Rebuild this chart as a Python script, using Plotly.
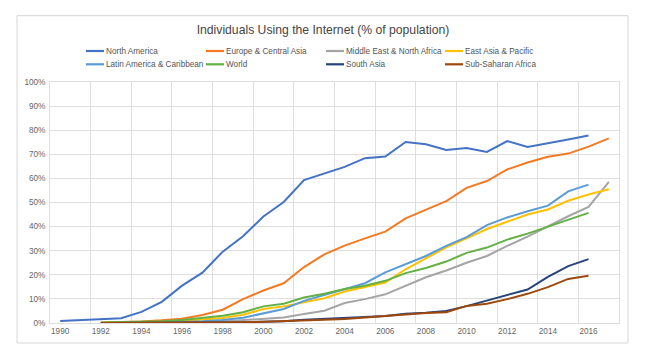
import plotly.graph_objects as go

years = list(range(1990, 2018))

north_america = [0.8, 1.2, 1.6, 2.0, 4.6, 8.8, 15.5, 20.9, 29.6, 36.0, 44.2, 50.2, 59.3, 62.0, 64.8, 68.4, 69.1, 75.1, 74.2, 71.8, 72.6, 71.0, 75.5, 73.0, 74.4, 76.1, 77.8, None]
europe_central_asia = [None, None, 0.2, 0.3, 0.6, 1.1, 1.8, 3.3, 5.5, 9.9, 13.5, 16.5, 23.2, 28.5, 32.1, 35.1, 37.9, 43.4, 46.9, 50.6, 56.1, 58.9, 63.7, 66.6, 69.0, 70.3, 73.2, 76.6]
middle_east_north_africa = [None, None, 0.0, 0.0, 0.05, 0.1, 0.2, 0.3, 0.6, 1.1, 1.8, 2.3, 3.7, 5.1, 8.3, 9.9, 11.9, 15.5, 19.0, 21.8, 25.0, 27.8, 32.0, 35.8, 40.1, 44.3, 48.2, 58.6]
east_asia_pacific = [None, None, 0.02, 0.05, 0.1, 0.3, 0.8, 1.4, 2.1, 3.4, 5.8, 6.9, 8.7, 10.3, 13.1, 14.9, 16.8, 22.3, 26.9, 31.4, 35.1, 39.0, 42.0, 45.0, 47.1, 50.7, 53.3, 55.5]
latin_america_caribbean = [None, None, 0.05, 0.1, 0.2, 0.3, 0.4, 0.7, 1.2, 2.2, 4.1, 5.8, 9.2, 11.7, 14.1, 16.5, 21.0, 24.5, 27.8, 32.0, 35.6, 40.6, 43.8, 46.4, 48.7, 54.6, 57.4, None]
world = [None, None, 0.2, 0.3, 0.4, 0.7, 1.2, 2.1, 3.0, 4.5, 6.9, 8.0, 10.6, 12.1, 14.1, 15.5, 17.5, 20.7, 22.8, 25.5, 29.1, 31.3, 34.6, 37.1, 40.0, 42.8, 45.7, None]
south_asia = [None, None, 0.0, 0.0, 0.0, 0.02, 0.05, 0.08, 0.15, 0.3, 0.5, 0.7, 1.3, 1.6, 2.0, 2.5, 2.9, 3.8, 4.3, 5.0, 7.0, 9.2, 11.5, 13.9, 19.1, 23.6, 26.5, None]
sub_saharan_africa = [None, None, 0.0, 0.0, 0.02, 0.05, 0.08, 0.12, 0.2, 0.3, 0.5, 0.7, 1.0, 1.3, 1.7, 2.2, 2.9, 3.5, 4.1, 4.5, 7.1, 8.0, 9.9, 12.1, 14.9, 18.3, 19.6, None]

series_names = ["North America", "Europe & Central Asia", "Middle East & North Africa",
                "East Asia & Pacific", "Latin America & Caribbean", "World",
                "South Asia", "Sub-Saharan Africa"]
series_values = [north_america, europe_central_asia, middle_east_north_africa,
                 east_asia_pacific, latin_america_caribbean, world,
                 south_asia, sub_saharan_africa]
series_colors = ["#4472c4", "#f47a22", "#a5a5a5", "#ffc000",
                 "#5b9bd5", "#63b145", "#264478", "#9e480e"]

year_labels = [y for y in years if y % 2 == 0 and y <= 2016]
grid_years = [y - 0.5 for y in years[::2]] + [years[-1] + 0.5]
y_ticks = list(range(0, 101, 10))

FONT = "Arial, Liberation Sans, sans-serif"
GRID = "#dedede"

W, H = 646, 351
L, R, T, B = 50, 27, 82, 28
plot_w = W - L - R
plot_h = H - T - B

def px(p):
    return (p - L) / plot_w

def py(p):
    return (H - B - p) / plot_h

fig = go.Figure()
for name, vals, color in zip(series_names, series_values, series_colors):
    fig.add_trace(go.Scatter(
        x=years, y=vals, name=name, mode="lines",
        line=dict(color=color, width=2), showlegend=False,
    ))

# Legend laid out as in the reference: 4 columns x 2 rows, short swatches
col_x = [86, 206, 326, 445]
row_y = [51, 64.3]
shapes = [dict(type="rect", xref="paper", yref="paper",
               x0=px(17), x1=px(628), y0=py(343), y1=py(15.7),
               line=dict(color="#d6d6d6", width=1), fillcolor="rgba(0,0,0,0)",
               layer="below")]
annotations = []
for i, (name, color) in enumerate(zip(series_names, series_colors)):
    cx = col_x[i % 4]
    ry = row_y[i // 4]
    shapes.append(dict(type="line", xref="paper", yref="paper",
                       x0=px(cx), x1=px(cx + 18), y0=py(ry), y1=py(ry),
                       line=dict(color=color, width=2.2)))
    annotations.append(dict(text=name, xref="paper", yref="paper",
                            x=px(cx + 18.5), y=py(ry), xanchor="left", yanchor="middle",
                            showarrow=False, borderpad=0,
                            font=dict(family=FONT, size=8.2, color="#555555")))

fig.update_layout(
    width=W, height=H,
    margin=dict(l=L, r=R, t=T, b=B),
    paper_bgcolor="white", plot_bgcolor="white",
    title=dict(text="Individuals Using the Internet (% of population)",
               x=0.5, xref="container", y=1 - 30 / H, yref="container",
               xanchor="center", yanchor="middle",
               font=dict(family=FONT, size=12.2, color="#444444")),
    xaxis=dict(
        range=[years[0] - 0.5, years[-1] + 0.5],
        tickmode="array", tickvals=year_labels,
        ticktext=[str(y) for y in year_labels],
        showgrid=False, zeroline=False,
        showline=True, mirror=True, linecolor=GRID, linewidth=1,
        tickfont=dict(family=FONT, size=8.2, color="#666666"),
        minor=dict(tickmode="array", tickvals=grid_years, showgrid=True,
                   gridcolor=GRID, gridwidth=1, ticks=""),
        fixedrange=True,
    ),
    yaxis=dict(
        range=[0, 100], tickmode="array", tickvals=y_ticks,
        ticktext=[f"{v}%" for v in y_ticks],
        showgrid=True, gridcolor=GRID, gridwidth=1, zeroline=False,
        showline=True, mirror=True, linecolor=GRID, linewidth=1,
        tickfont=dict(family=FONT, size=8.2, color="#666666"),
        ticklabelstandoff=2,
        fixedrange=True,
    ),
    shapes=shapes,
    annotations=annotations,
    showlegend=False,
)

fig.write_html("out.html", config={"displayModeBar": False})
